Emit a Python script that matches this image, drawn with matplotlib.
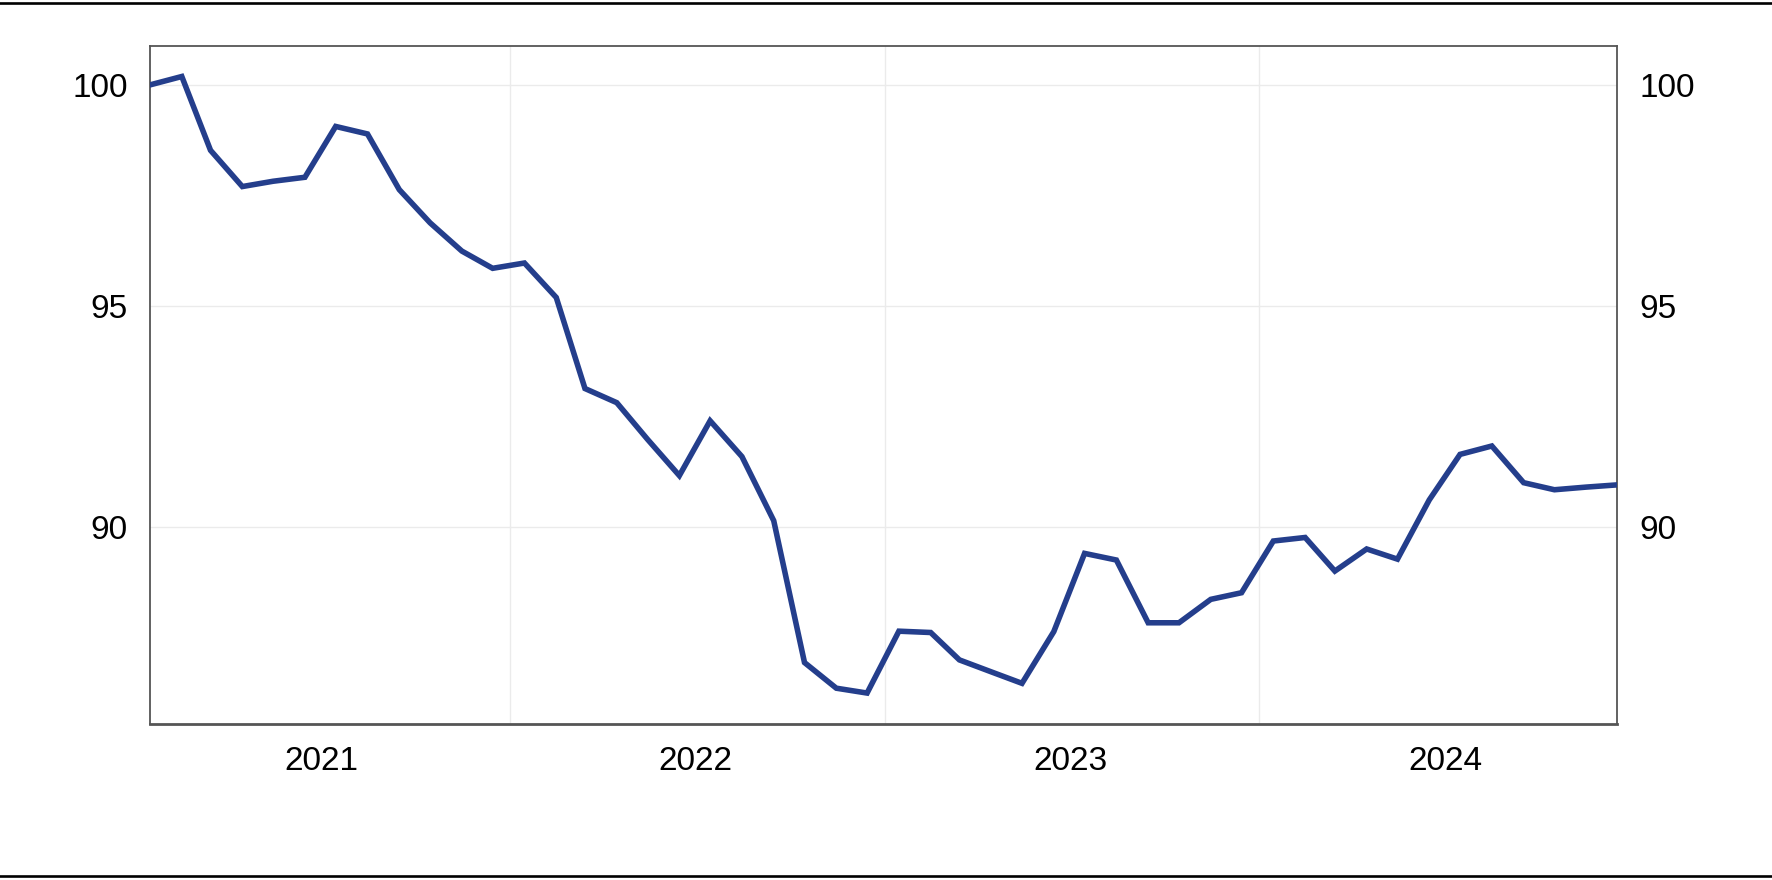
import matplotlib
matplotlib.use("Agg")
import matplotlib.pyplot as plt
from matplotlib.lines import Line2D
import pandas as pd

plt.rcParams['font.family'] = ['Liberation Sans', 'DejaVu Sans']

# monthly index, Jan 2021 = 100
months = pd.date_range("2021-01-01", "2024-12-01", freq="MS")
index_values = [
    100.00, 100.19, 98.52, 97.70, 97.82, 97.91, 99.06, 98.89, 97.63, 96.88, 96.24, 95.85,
    95.97, 95.19, 93.13, 92.81, 91.98, 91.16, 92.40, 91.59, 90.14, 86.93, 86.35, 86.24,
    87.64, 87.61, 86.99, 86.72, 86.46, 87.63, 89.40, 89.25, 87.83, 87.83, 88.36, 88.51,
    89.68, 89.76, 89.00, 89.50, 89.27, 90.61, 91.64, 91.83, 91.00, 90.84, 90.90, 90.95,
]
years = [2021, 2022, 2023, 2024]
y_ticks = [90, 95, 100]

line_color = "#243e8c"
grid_color = "#ebebeb"
spine_color = "#555555"

fig = plt.figure(figsize=(17.72, 8.8), dpi=100)
ax = fig.add_axes([150 / 1772, 1 - 724 / 880, (1617 - 150) / 1772, (724 - 46) / 880])

# points sit in the middle of each month
x = months + pd.Timedelta(days=14)
ax.plot(x, index_values, color=line_color, linewidth=4.0, solid_joinstyle="miter", zorder=3)

ax.set_xlim(x[0], x[-1])
ax.set_ylim(85.54, 100.88)

# year labels in the middle of the year, gridlines at year start
ax.set_xticks([pd.Timestamp(f"{yr}-07-01") for yr in years])
ax.set_xticklabels([str(yr) for yr in years])
ax.set_xticks([pd.Timestamp(f"{yr}-01-01") for yr in years[1:]], minor=True)
ax.set_yticks(y_ticks)

ax.grid(True, which="minor", axis="x", color=grid_color, linewidth=1.0)
ax.grid(True, which="major", axis="y", color=grid_color, linewidth=1.0)
ax.set_axisbelow(True)

ax.tick_params(axis="x", which="both", length=0, labelsize=24, pad=15.5)
ax.tick_params(axis="y", which="both", length=0, labelsize=24, pad=16,
               labelleft=True, labelright=True)

for side in ["left", "right", "top"]:
    ax.spines[side].set_color(spine_color)
    ax.spines[side].set_linewidth(1.3)
ax.spines["bottom"].set_color(spine_color)
ax.spines["bottom"].set_linewidth(2.0)

# thin rules at top and bottom of the figure
fig.add_artist(Line2D([0, 1], [1 - 3 / 880, 1 - 3 / 880], transform=fig.transFigure,
                      color="black", linewidth=1.9))
fig.add_artist(Line2D([0, 1], [1 - 875.5 / 880, 1 - 875.5 / 880], transform=fig.transFigure,
                      color="black", linewidth=1.9))

fig.savefig("out.png", dpi=100, facecolor="white")
